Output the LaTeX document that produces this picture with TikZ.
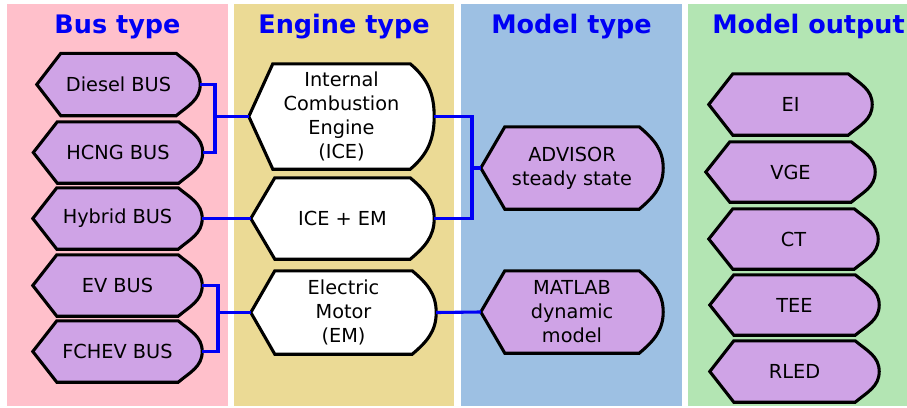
\documentclass[tikz,border=0pt]{standalone}
\usepackage{fontspec}
\setmainfont{DejaVu Sans}
\usetikzlibrary{calc}
\pgfdeclarelayer{cols}
\pgfdeclarelayer{shp}
\pgfsetlayers{cols,shp,main}
\definecolor{colpink}{RGB}{255,192,203}
\definecolor{coltan}{RGB}{235,218,149}
\definecolor{colblue}{RGB}{157,192,227}
\definecolor{colgreen}{RGB}{179,229,179}
\definecolor{purp}{RGB}{207,163,230}
\definecolor{ttl}{RGB}{0,0,245}
\definecolor{wire}{RGB}{0,0,245}
\newcommand\dshape[2]{\draw[shapeline, fill=#2] (#1.west) -- ([xshift=24pt]#1.north west) -- ([xshift=-24pt]#1.north east) to[out=-40,in=90] (#1.east) to[out=-90,in=40] ([xshift=-24pt]#1.south east) -- ([xshift=24pt]#1.south west) -- cycle;}
\tikzset{
  dtext/.style={inner sep=0pt, align=center, font=\fontsize{19.3}{24}\selectfont},
  ttlnode/.style={anchor=base, inner sep=0pt, text=ttl, font=\bfseries\fontsize{25.5}{30}\selectfont},
  shapeline/.style={draw=black, line width=3.1pt},
  conn/.style={draw=wire, line width=3.1pt},
  colbox/.style={draw=none}
}
\begin{document}
\begin{tikzpicture}[x=1pt,y=1pt]
\path[use as bounding box] (0,0) rectangle (907,-407);
\begin{pgfonlayer}{cols}
\fill[white] (0,0) rectangle (907,-407);
\fill[colpink] (7,-4) rectangle (228,-406);
\fill[coltan] (234,-4) rectangle (454,-406);
\fill[colblue] (461,-4) rectangle (682,-406);
\fill[colgreen] (688,-4) rectangle (907,-406);
\end{pgfonlayer}
% titles
\node[ttlnode] (t1) at (117.5,-33) {Bus type};
\node[ttlnode] (t2) at (344,-33) {Engine type};
\node[ttlnode] (t3) at (571.5,-33) {Model type};
\node[ttlnode] (t4) at (808.5,-33) {Model output};
% bus types
\node[dtext, minimum width=163pt, minimum height=62pt] (diesel) at (118.5,-84.5) {Diesel BUS};
\node[dtext, minimum width=169pt, minimum height=61pt] (hcng) at (118,-152.5) {HCNG BUS};
\node[dtext, minimum width=169pt, minimum height=61pt] (hybrid) at (117.5,-218.5) {Hybrid BUS};
\node[dtext, minimum width=169pt, minimum height=61pt] (ev) at (117.5,-285.5) {EV BUS};
\node[dtext, minimum width=169pt, minimum height=61pt] (fchev) at (117.5,-351.5) {FCHEV BUS};
% engine types
\node[dtext, minimum width=185pt, minimum height=105pt] (ice) at (341.5,-116.5) {Internal\\Combustion\\Engine\\(ICE)};
\node[dtext, minimum width=183pt, minimum height=81pt] (iceem) at (342.5,-218.5) {ICE + EM};
\node[dtext, minimum width=185pt, minimum height=83pt] (em) at (343.5,-312.5) {Electric\\Motor\\(EM)};
% model types
\node[dtext, minimum width=182pt, minimum height=82pt] (advisor) at (572,-168) {ADVISOR\\steady state};
\node[dtext, minimum width=182pt, minimum height=82pt] (matlab) at (572,-312) {MATLAB\\dynamic\\model};
% outputs
\node[dtext, minimum width=163pt, minimum height=61pt] (ei) at (790.5,-104.5) {EI};
\node[dtext, minimum width=169pt, minimum height=60pt] (vge) at (790.5,-172) {VGE};
\node[dtext, minimum width=169pt, minimum height=60pt] (ct) at (793.5,-239) {CT};
\node[dtext, minimum width=169pt, minimum height=60pt] (tee) at (794.5,-305) {TEE};
\node[dtext, minimum width=169pt, minimum height=61pt] (rled) at (794.5,-371.5) {RLED};
\begin{pgfonlayer}{shp}
\foreach \n/\c in {diesel/purp,hcng/purp,hybrid/purp,ev/purp,fchev/purp,ice/white,iceem/white,em/white,advisor/purp,matlab/purp,ei/purp,vge/purp,ct/purp,tee/purp,rled/purp}{\dshape{\n}{\c}}
% connectors
\coordinate (j1) at (215,-116.5);
\coordinate (j2) at (218,-312.5);
\coordinate (j3) at (472,-168);
\draw[conn] (diesel.east) -| (j1) |- (hcng.east);
\draw[conn] (j1) -- (ice.west);
\draw[conn] (hybrid.east) -- (iceem.west);
\draw[conn] (ev.east) -| (j2) |- (fchev.east);
\draw[conn] (j2) -- (em.west);
\draw[conn] (ice.east) -| (j3) |- (iceem.east);
\draw[conn] (j3) -- (advisor.west);
\draw[conn] (em.east) -- (matlab.west);
\end{pgfonlayer}
\end{tikzpicture}
\end{document}
